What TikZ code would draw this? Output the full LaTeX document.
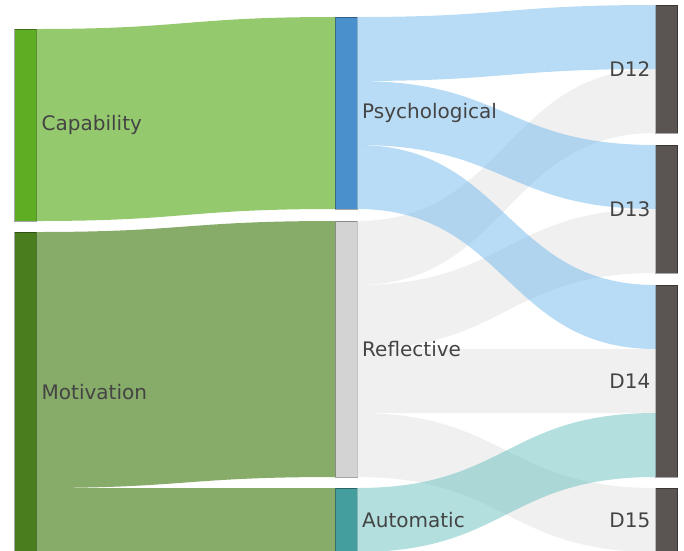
\documentclass[tikz,border=0pt]{standalone}
\usepackage{fontspec}
\setmainfont{DejaVu Sans}
\usetikzlibrary{positioning,calc}

\definecolor{capnode}{RGB}{95,173,34}
\definecolor{motnode}{RGB}{74,125,30}
\definecolor{psynode}{RGB}{74,144,204}
\definecolor{refnode}{RGB}{211,211,211}
\definecolor{autnode}{RGB}{68,158,158}
\definecolor{dnode}{RGB}{90,85,82}
\definecolor{capflow}{RGB}{149,201,110}
\definecolor{motflow}{RGB}{135,171,105}
\definecolor{psyflow}{RGB}{113,185,235}
\definecolor{refflow}{RGB}{225,225,225}
\definecolor{autflow}{RGB}{103,193,191}
\definecolor{labelgray}{RGB}{68,68,68}

\tikzset{
  bar/.style={draw=black, draw opacity=0.35, line width=0.6pt, minimum width=22pt,
    inner sep=0pt, outer sep=0pt},
  lbl/.style={inner sep=0pt, text=labelgray, font=\fontsize{20}{24}\selectfont},
  band/.style={fill=#1, fill opacity=0.5},
}

% source, offset, target, offset, width, style
\newcommand{\flow}[6]{%
  \fill[#6] let \p1=($(#1.north east)+(0,#2)$), \p2=($(#3.north west)+(0,#4)$),
      \p3=($(\p1)!0.5!(\p2)$) in
    (\p1) .. controls (\x3,\y1) and (\x3,\y2) .. (\p2)
    -- (\x2,\y2-#5pt)
    .. controls (\x3,\y2-#5pt) and (\x3,\y1-#5pt) .. (\x1,\y1-#5pt) -- cycle;}

\begin{document}
\begin{tikzpicture}[x=1pt,y=-1pt]
\useasboundingbox (0,0) rectangle (684,550);
\clip (0,0) rectangle (684,550);

\node[bar, fill=capnode, minimum height=192pt] (cap) at (25.5,125) {};
\node[bar, fill=motnode, minimum height=320pt] (mot) at (25.5,392) {};

\node[bar, fill=psynode, minimum height=192pt] (psy) at (346,113) {};
\node[bar, fill=refnode, minimum height=256pt] (ref) at (346,349) {};
\node[bar, fill=autnode, minimum height=64pt] (aut) at (346,520) {};

\node[bar, fill=dnode, minimum height=128pt] (d12) at (666.5,69) {};
\node[bar, fill=dnode, minimum height=128pt] (d13) at (666.5,209) {};
\node[bar, fill=dnode, minimum height=192pt] (d14) at (666.5,381) {};
\node[bar, fill=dnode, minimum height=64pt] (d15) at (666.5,520) {};

\flow{cap}{0}{psy}{0}{192}{fill=capflow}
\flow{mot}{0}{ref}{0}{256}{fill=motflow}
\flow{mot}{256}{aut}{0}{64}{fill=motflow}

\flow{ref}{0}{d12}{64}{64}{band=refflow}
\flow{ref}{64}{d13}{64}{64}{band=refflow}
\flow{ref}{128}{d14}{64}{64}{band=refflow}
\flow{ref}{192}{d15}{0}{64}{band=refflow}

\flow{psy}{0}{d12}{0}{64}{band=psyflow}
\flow{psy}{64}{d13}{0}{64}{band=psyflow}
\flow{psy}{128}{d14}{0}{64}{band=psyflow}

\flow{aut}{0}{d14}{128}{64}{band=autflow}

\node[lbl, right=5pt of cap] (capl) {Capability};
\node[lbl, right=5pt of mot] (motl) {Motivation};
\node[lbl, right=5pt of psy] (psyl) {Psychological};
\node[lbl, right=5pt of ref] (refl) {Reflective};
\node[lbl, right=5pt of aut] (autl) {Automatic};
\node[lbl, left=5pt of d12] (d12l) {D12};
\node[lbl, left=5pt of d13] (d13l) {D13};
\node[lbl, left=5pt of d14] (d14l) {D14};
\node[lbl, left=5pt of d15] (d15l) {D15};

\end{tikzpicture}
\end{document}
